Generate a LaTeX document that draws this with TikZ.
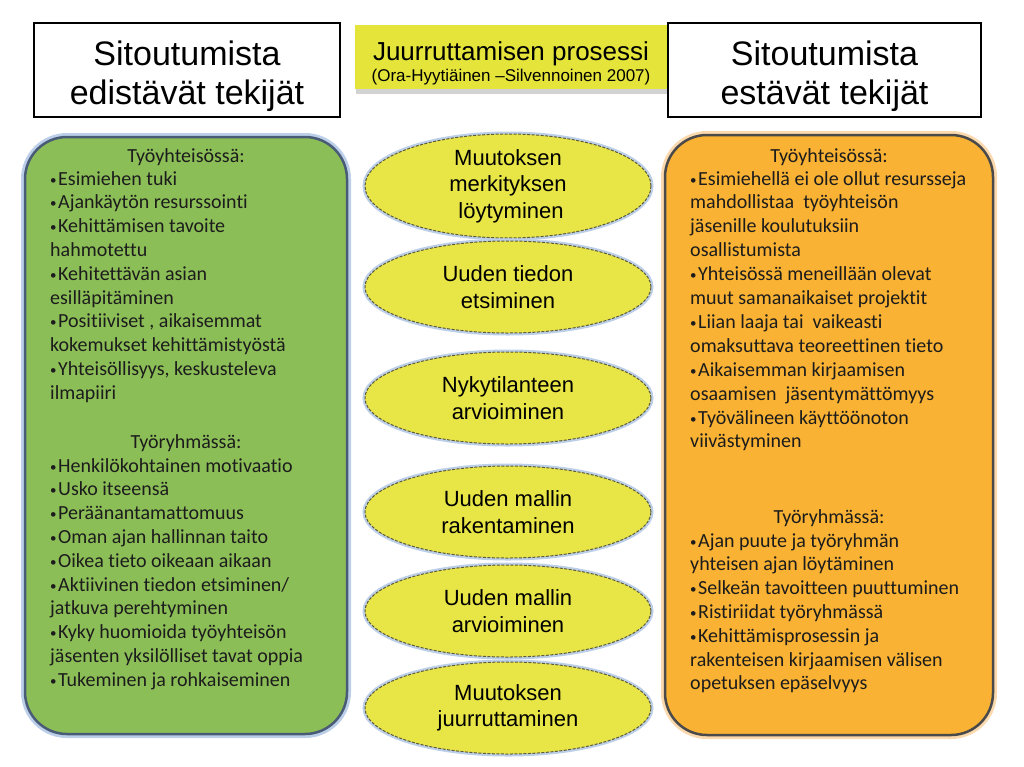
\documentclass[tikz,border=0pt]{standalone}
\usepackage{fontspec}
\setmainfont{Carlito}[Ligatures=NoCommon]
\newfontfamily\arialfont{Liberation Sans}
\usetikzlibrary{shapes.geometric}
\usetikzlibrary{shadows}

\definecolor{plusgreen}{HTML}{8CBE57}
\definecolor{minusorange}{HTML}{F9B233}
\definecolor{stepyellow}{HTML}{E8E546}
\definecolor{titleyellow}{HTML}{E4E43A}
\definecolor{glowblue}{HTML}{BCCFE9}
\definecolor{gloworange}{HTML}{FBD9AE}
\definecolor{slateborder}{HTML}{4A5B77}
\definecolor{darkborder}{HTML}{4A4A4A}
\definecolor{dashgrey}{HTML}{5E5A3C}
\definecolor{bodytext}{HTML}{1C1C1C}

% pieni luettelomerkki
\newcommand{\bul}{\raisebox{1pt}{\fontsize{13}{13}\selectfont•}\hspace{1.5pt}}

\tikzset{
    headbox/.style={draw=black, line width=2pt, fill=white, inner sep=0pt},
    headtext/.style={align=center, inner sep=0pt,
        font=\arialfont\fontsize{34}{38.5}\selectfont},
    titlebox/.style={fill=titleyellow, inner sep=0pt, minimum width=313pt,
        minimum height=64pt,
        drop shadow={opacity=0.35, shadow xshift=1pt, shadow yshift=-5pt}},
    factorbox/.style={rounded corners=42pt, line width=2.5pt, inner sep=0pt},
    stepellipse/.style={ellipse, fill=stepyellow, draw=dashgrey, line width=1pt,
        dash pattern=on 3pt off 1.5pt, minimum width=286pt, minimum height=92pt,
        inner sep=0pt, align=center, font=\arialfont\fontsize{22}{26.5}\selectfont,
        preaction={draw=glowblue, line width=5pt, solid}},
    listline/.style={anchor=base west, inner sep=0pt, text=bodytext,
        font=\fontsize{20}{23}\selectfont},
    listhead/.style={anchor=base, inner sep=0pt, text=bodytext,
        font=\fontsize{20}{23}\selectfont}
}

\begin{document}
\begin{tikzpicture}[x=1pt,y=-1pt]
    \useasboundingbox[fill=white] (0,0) rectangle (1024,766);

    % otsikot
    \node[titlebox] (prosessi) at (511.5,57) {};
    \node[anchor=base, inner sep=0pt, font=\arialfont\fontsize{26}{28}\selectfont]
        (prosessiotsikko) at (511,60) {Juurruttamisen prosessi};
    \node[anchor=base, inner sep=0pt, font=\arialfont\fontsize{17}{20}\selectfont]
        (lahde) at (511,81) {(Ora-Hyytiäinen –Silvennoinen 2007)};
    \node[headbox, minimum width=306pt, minimum height=94pt] (edistavat) at (187,70) {};
    \node[headtext] (edistavatteksti) at (187,76) {Sitoutumista\\edistävät tekijät};
    \node[headbox, minimum width=313pt, minimum height=94pt] (estavat) at (824.5,70) {};
    \node[headtext] (estavatteksti) at (824.5,76) {Sitoutumista\\estävät tekijät};

    % laatikot
    \node[factorbox, fill=plusgreen, draw=slateborder, minimum width=322pt,
        minimum height=597pt, preaction={draw=glowblue, line width=8pt}]
        (edistavatlaatikko) at (186,435.5) {};
    \node[factorbox, fill=minusorange, draw=darkborder, minimum width=328pt,
        minimum height=600pt, preaction={draw=gloworange, line width=8pt}]
        (estavatlaatikko) at (829,435) {};

    % prosessin vaiheet
    \foreach \y/\txt [count=\i] in {186/{Muutoksen\\merkityksen\\\ löytyminen},
            287/{Uuden tiedon\\etsiminen}, 398/{Nykytilanteen\\arvioiminen},
            512/{Uuden mallin\\rakentaminen}, 611/{Uuden mallin\\arvioiminen},
            708/{Muutoksen\\juurruttaminen}}
        \node[stepellipse] (vaihe\i) at (508,\y) {\txt};

    % edistavat tekijat
    \node[listhead] (edyhteiso) at (186,162) {Työyhteisössä:};
    \foreach \txt [count=\i] in {\bul Esimiehen tuki, \bul Ajankäytön resurssointi,
            \bul Kehittämisen tavoite, hahmotettu, \bul Kehitettävän asian,
            esilläpitäminen, {\bul Positiiviset , aikaisemmat},
            kokemukset kehittämistyöstä, {\bul Yhteisöllisyys, keskusteleva},
            ilmapiiri}
        \node[listline] (edyht\i) at (50,{185+23.8*(\i-1)}) {\txt};
    \node[listhead] (edryhma) at (186,448) {Työryhmässä:};
    \foreach \txt [count=\i] in {\bul Henkilökohtainen motivaatio, \bul Usko itseensä,
            \bul Peräänantamattomuus, \bul Oman ajan hallinnan taito,
            \bul Oikea tieto oikeaan aikaan, \bul Aktiivinen tiedon etsiminen/,
            jatkuva perehtyminen, \bul Kyky huomioida työyhteisön,
            jäsenten yksilölliset tavat oppia, \bul Tukeminen ja rohkaiseminen}
        \node[listline] (edryh\i) at (50,{472+23.8*(\i-1)}) {\txt};

    % estavat tekijat
    \node[listhead] (esyhteiso) at (829,162) {Työyhteisössä:};
    \foreach \txt [count=\i] in {\bul Esimiehellä ei ole ollut resursseja,
            mahdollistaa~ työyhteisön, jäsenille koulutuksiin, osallistumista,
            \bul Yhteisössä meneillään olevat, muut samanaikaiset projektit,
            \bul Liian laaja tai~ vaikeasti, omaksuttava teoreettinen tieto,
            \bul Aikaisemman kirjaamisen, osaamisen~ jäsentymättömyys,
            \bul Työvälineen käyttöönoton, viivästyminen}
        \node[listline] (esyht\i) at (690,{185+23.9*(\i-1)}) {\txt};
    \node[listhead] (esryhma) at (829,523) {Työryhmässä:};
    \foreach \txt [count=\i] in {\bul Ajan puute ja työryhmän,
            yhteisen ajan löytäminen, \bul Selkeän tavoitteen puuttuminen,
            \bul Ristiriidat työryhmässä, \bul Kehittämisprosessin ja,
            rakenteisen kirjaamisen välisen, opetuksen epäselvyys}
        \node[listline] (esryh\i) at (690,{547+23.8*(\i-1)}) {\txt};
\end{tikzpicture}
\end{document}
